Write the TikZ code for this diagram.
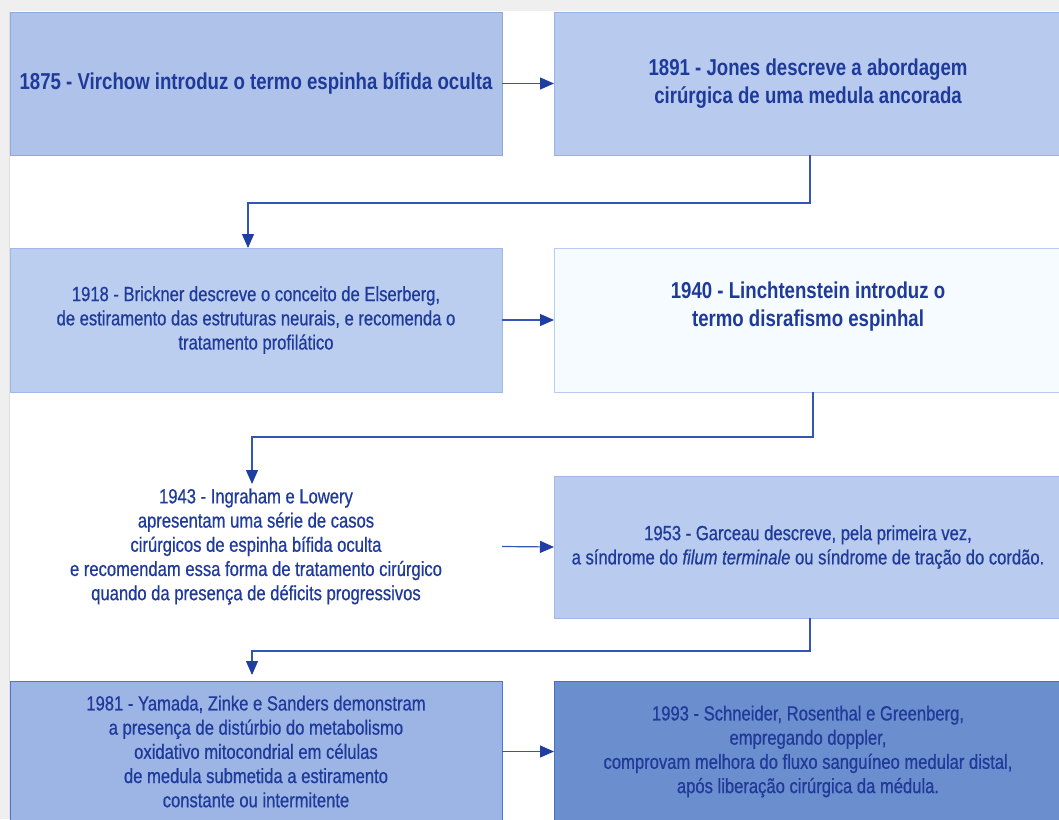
\documentclass[tikz,border=0pt]{standalone}
\usepackage{fontspec}
\setmainfont{Liberation Sans}[FakeStretch=0.81, UprightFeatures={FakeBold=0.6}, ItalicFeatures={FakeBold=0.6}]
\usetikzlibrary{arrows.meta,positioning,calc}
\definecolor{txt}{HTML}{1E3A9A}
\definecolor{ln}{HTML}{3356B5}
\definecolor{tipc}{HTML}{1F3FA0}
\definecolor{fA}{HTML}{AEC2EA}\definecolor{dA}{HTML}{8EA9E0}
\definecolor{fB}{HTML}{B8CBEE}\definecolor{dB}{HTML}{9AB3E6}
\definecolor{fC}{HTML}{BCCEF0}\definecolor{dC}{HTML}{A0B8E8}
\definecolor{fD}{HTML}{F5FBFF}\definecolor{dD}{HTML}{B8CBF0}
\definecolor{fF}{HTML}{B9CCEF}\definecolor{dF}{HTML}{A2B9E8}
\definecolor{fG}{HTML}{9DB5E5}\definecolor{dG}{HTML}{5075C8}
\definecolor{fH}{HTML}{6B8ECE}\definecolor{dH}{HTML}{4A6EC0}
\definecolor{edge}{HTML}{EFEFEF}
\tikzset{
  box/.style={draw, line width=1pt, inner sep=0pt, outer sep=0pt, align=center, text=txt},
  lbox/.style={box, minimum width=492pt},
  rbox/.style={box, minimum width=508pt},
  boldtxt/.style={font=\bfseries\fontsize{23}{28}\selectfont},
  regtxt/.style={font=\fontsize{20.5}{24.2}\selectfont},
  conn/.style={draw=ln, line width=1.2pt, -{Triangle[length=14pt,width=12pt,fill=tipc,color=tipc]}},
}
\begin{document}
\begin{tikzpicture}[x=1pt,y=-1pt]
\useasboundingbox (0,0) rectangle (1059,819);
\clip (0,0) rectangle (1059,819);
\fill[white] (0,0) rectangle (1059,819);
\fill[edge] (0,0) rectangle (1059,11);
\fill[edge] (0,0) rectangle (9,819);
\draw[color=black!12, line width=0.8pt] (9,11) -- (9,819);

\node[lbox, fill=fA, draw=dA, minimum height=143pt, boldtxt] (b1) at (256,83.5)
  {1875 - Virchow introduz o termo espinha bífida oculta};
\node[rbox, fill=fB, draw=dB, minimum height=143pt, boldtxt] (b2) at (808,83.5)
  {1891 - Jones descreve a abordagem\\cirúrgica de uma medula ancorada};
\node[lbox, fill=fC, draw=dC, minimum height=144pt, regtxt] (b3) at (256,320)
  {1918 - Brickner descreve o conceito de Elserberg,\\de estiramento das estruturas neurais, e recomenda o\\tratamento profilático};
\node[rbox, fill=fD, draw=dD, minimum height=144pt] (b4) at (808,320) {};
\node[boldtxt, text=txt, align=center, inner sep=0pt] (t4) at (808,307)
  {1940 - Linchtenstein introduz o\\termo disrafismo espinhal};
\node[lbox, draw=none, minimum height=152pt, regtxt] (b5) at (256,546.5)
  {1943 - Ingraham e Lowery\\apresentam uma série de casos\\cirúrgicos de espinha bífida oculta\\e recomendam essa forma de tratamento cirúrgico\\quando da presença de déficits progressivos};
\node[rbox, fill=fF, draw=dF, minimum height=142pt, regtxt] (b6) at (808,547)
  {1953 - Garceau descreve, pela primeira vez,\\a síndrome do \textit{filum terminale} ou síndrome de tração do cordão.};
\node[lbox, fill=fG, draw=dG, minimum height=141pt, regtxt] (b7) at (256,751.5)
  {1981 - Yamada, Zinke e Sanders demonstram\\a presença de distúrbio do metabolismo\\oxidativo mitocondrial em células\\de medula submetida a estiramento\\constante ou intermitente};
\node[rbox, fill=fH, draw=dH, minimum height=141pt, regtxt] (b8) at (808,751.5)
  {1993 - Schneider, Rosenthal e Greenberg,\\empregando doppler,\\comprovam melhora do fluxo sanguíneo medular distal,\\após liberação cirúrgica da médula.};

\coordinate (in5) at (252,484);

\draw[conn] (b1.east) -- (b2.west);
\draw[conn] (b3.east) -- (b4.west);
\draw[conn] (b5.east) -- (b6.west);
\draw[conn] (b7.east) -- (b8.west);

\draw[conn] ([xshift=2]b2.south) -- ++(0,48) -| ([xshift=-8]b3.north);
\draw[conn] ([xshift=5]b4.south) -- ++(0,45) -| (in5);
\draw[conn] ([xshift=2]b6.south) -- ++(0,33) -| ([xshift=-4,yshift=6]b7.north);
\end{tikzpicture}
\end{document}
